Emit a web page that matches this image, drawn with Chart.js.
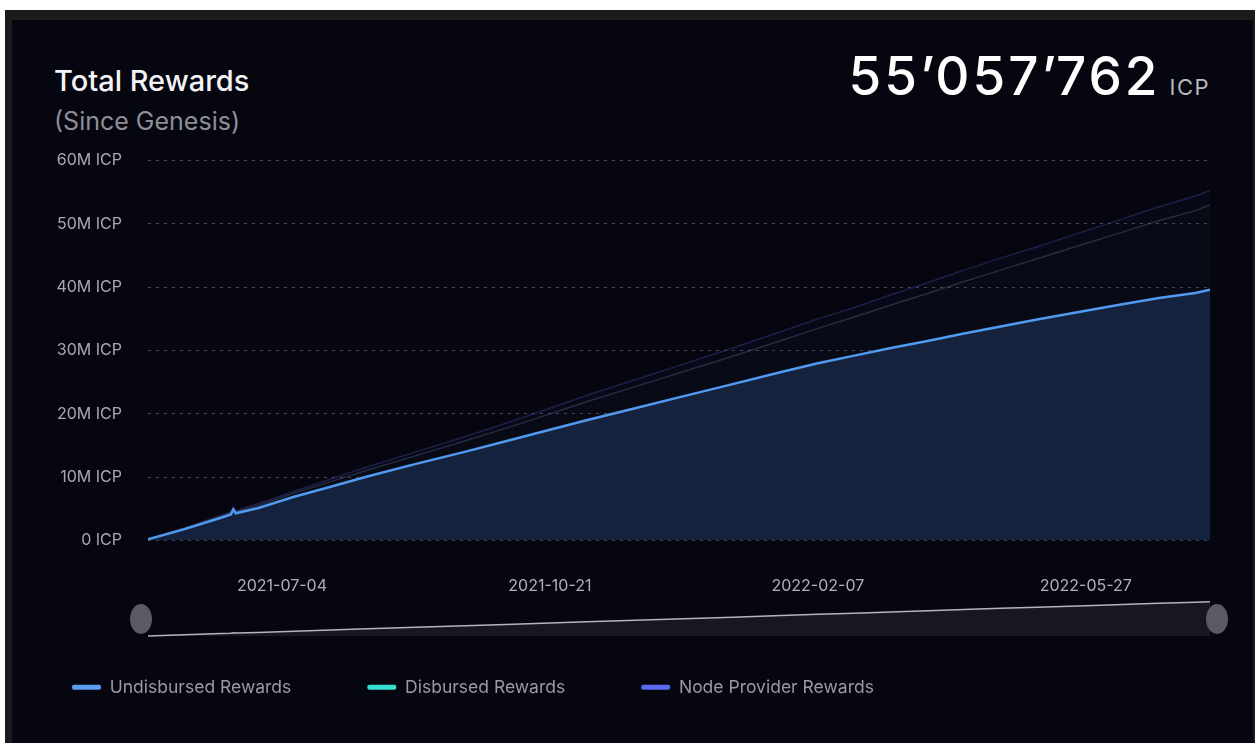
<!DOCTYPE html>
<html lang="en">
<head>
<meta charset="UTF-8">
<title>Total Rewards</title>
<script src="https://cdn.jsdelivr.net/npm/chart.js@4.4.0/dist/chart.umd.min.js"></script>
<style>
  body { margin: 0; background: #fff; font-family: Inter, sans-serif; overflow: hidden; width: 1259px; height: 743px; }
  #frame { position: absolute; left: 5px; top: 10px; width: 1250px; height: 733px; background: #1b1b1d; }
  #card { position: absolute; left: 12px; top: 20px; width: 1241px; height: 723px; background: #05060f; }
  .abs { position: absolute; }
  #title { left: 54px; top: 63px; font-size: 29px; font-weight: 500; color: #f4f4f6; }
  #sub { left: 54px; top: 106px; font-size: 25px; color: #8e8e96; }
  #total { right: 49px; top: 44px; color: #fff; white-space: nowrap; }
  #total .num { font-size: 53px; font-weight: 500; letter-spacing: 3px; }
  #total .unit { font-size: 22px; color: #b8b8c0; margin-left: 9px; letter-spacing: 1.5px; }
  #main { left: -4px; top: 125px; width: 1257px; height: 581px; }
  #slider { left: -4px; top: 600px; width: 1257px; height: 38px; }
</style>
</head>
<body>
<div id="frame"></div>
<div id="card"></div>
<div class="abs" id="title">Total Rewards</div>
<div class="abs" id="sub">(Since Genesis)</div>
<div class="abs" id="total"><span class="num">55’057’762</span><span class="unit">ICP</span></div>
<div class="abs" id="main"><canvas id="chart"></canvas></div>
<div class="abs" id="slider"><canvas id="zoom"></canvas></div>
<script>
// days since genesis (2021-05-10), values in millions of ICP
const days = [0, 15, 30, 34, 35, 36, 45, 60, 75, 90, 110, 130, 150, 165, 180, 200, 220, 240, 260, 275, 290, 305, 320, 335, 350, 365, 385, 400, 415, 430, 436]
const undisbursed = [0.2, 1.8, 3.6, 4.1, 4.9, 4.3, 5.1, 6.9, 8.5, 10.1, 12.1, 14.0, 16.0, 17.5, 19.0, 20.9, 22.8, 24.7, 26.6, 28.0, 29.2, 30.4, 31.5, 32.7, 33.8, 34.9, 36.3, 37.3, 38.3, 39.1, 39.6]
const disbursed = [0, 0.1, 0.2, 0.2, 0.2, 0.2, 0.4, 0.6, 0.8, 1.0, 1.3, 1.7, 2.1, 2.5, 2.9, 3.4, 3.9, 4.4, 5.0, 5.5, 6.1, 6.8, 7.5, 8.2, 8.9, 9.6, 10.6, 11.4, 12.2, 13.0, 13.4]
const nodeProvider = [0, 0.1, 0.2, 0.2, 0.2, 0.2, 0.3, 0.3, 0.4, 0.5, 0.6, 0.7, 0.8, 0.9, 1.0, 1.1, 1.2, 1.3, 1.4, 1.5, 1.5, 1.6, 1.7, 1.8, 1.9, 1.9, 2.0, 2.1, 2.2, 2.3, 2.3]
const tickDays = [55, 165, 275, 385]
const tickLabels = ['2021-07-04', '2021-10-21', '2022-02-07', '2022-05-27']
const seriesNames = ['Undisbursed Rewards', 'Disbursed Rewards', 'Node Provider Rewards']
const legendColors = ['#5b9cf0', '#35e0cf', '#5b68f0']

const pts = arr => days.map((d, i) => ({x: d, y: arr[i]}))
const totals = days.map((d, i) => undisbursed[i] + disbursed[i] + nodeProvider[i])

Chart.defaults.font.family = 'Inter'

new Chart(document.getElementById('chart'), {
  type: 'line',
  data: {
    datasets: [
      { label: seriesNames[0], data: pts(undisbursed), borderColor: '#509af0', borderWidth: 2.5,
        backgroundColor: '#14223e', fill: 'origin', pointRadius: 0, tension: 0 },
      { label: seriesNames[1], data: pts(disbursed), borderColor: 'rgba(80,100,135,0.4)', borderWidth: 1.5,
        backgroundColor: 'rgba(40,55,90,0.1)', fill: '-1', pointRadius: 0, tension: 0 },
      { label: seriesNames[2], data: pts(nodeProvider), borderColor: 'rgba(75,65,150,0.4)', borderWidth: 1.5,
        backgroundColor: 'rgba(50,45,110,0.08)', fill: '-1', pointRadius: 0, tension: 0 }
    ]
  },
  options: {
    responsive: true,
    maintainAspectRatio: false,
    animation: false,
    layout: { padding: { left: 0, right: 43, top: 20, bottom: 0 } },
    scales: {
      x: {
        type: 'linear', min: 0, max: 436,
        grid: { display: false, drawTicks: false },
        border: { display: false },
        afterBuildTicks: s => { s.ticks = tickDays.map(v => ({ value: v })) },
        afterFit: s => { s.height = 62 },
        ticks: {
          color: '#b0b0b8', font: { size: 16 }, padding: 36, maxRotation: 0,
          callback: v => tickLabels[tickDays.indexOf(v)]
        }
      },
      y: {
        stacked: true, min: 0, max: 60,
        grid: { color: 'rgba(255,255,255,0.28)', drawTicks: false },
        border: { display: false, dash: [3, 5] },
        afterFit: s => { s.width = 152 },
        ticks: {
          stepSize: 10, color: '#a8a8b0', font: { size: 16 }, padding: 26,
          callback: v => v === 0 ? '0 ICP' : v + 'M ICP'
        }
      }
    },
    plugins: {
      tooltip: { enabled: false },
      legend: {
        position: 'bottom', align: 'start',
        labels: {
          color: '#9a9aa4', font: { size: 17.5 }, boxWidth: 29, boxHeight: 5, padding: 76,
          generateLabels: chart => chart.data.datasets.map((ds, i) => ({
            text: ds.label, fillStyle: legendColors[i], strokeStyle: legendColors[i],
            lineWidth: 0, fontColor: '#9a9aa4', datasetIndex: i, hidden: false,
            borderRadius: 2
          })),
          useBorderRadius: true, borderRadius: 2
        }
      }
    }
  }
})

// range slider with overview line
const handles = {
  id: 'handles',
  afterDraw(chart) {
    const { ctx, chartArea } = chart
    const cy = (chartArea.top + chartArea.bottom) / 2 + 1
    ctx.save()
    ctx.fillStyle = '#5a5a65'
    ;[chartArea.left - 7, chartArea.right + 7].forEach(x => {
      ctx.beginPath()
      ctx.ellipse(x, cy, 11, 15, 0, 0, Math.PI * 2)
      ctx.fill()
    })
    ctx.restore()
  }
}

new Chart(document.getElementById('zoom'), {
  type: 'line',
  data: {
    datasets: [{ data: pts(totals), borderColor: '#b4b4bc', borderWidth: 1.5,
      backgroundColor: '#17171f', fill: 'origin', pointRadius: 0, tension: 0, clip: false }]
  },
  options: {
    responsive: true,
    maintainAspectRatio: false,
    animation: false,
    layout: { padding: { left: 152, right: 43, top: 0, bottom: 2 } },
    scales: {
      x: { type: 'linear', min: 0, max: 436, display: false },
      y: { min: 0, max: 58, display: false }
    },
    plugins: { legend: { display: false }, tooltip: { enabled: false } }
  },
  plugins: [handles]
})
</script>
</body>
</html>
